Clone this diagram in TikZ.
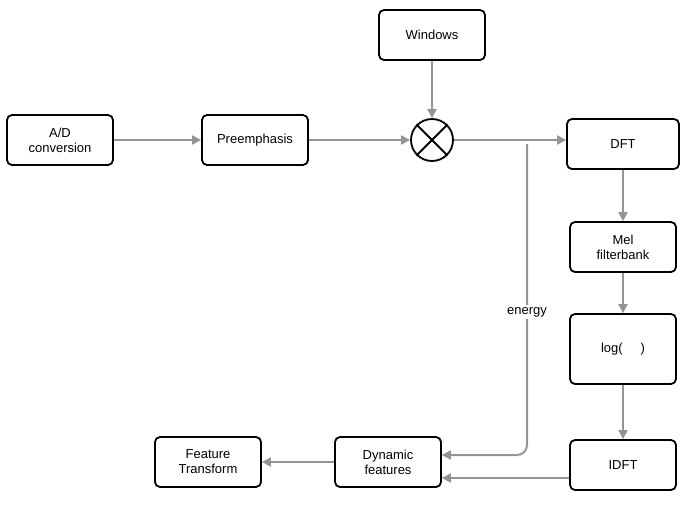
\documentclass[tikz,border=0pt]{standalone}
\usepackage{fontspec}
\setmainfont{Liberation Sans}
\usetikzlibrary{arrows.meta}
\begin{document}
\begin{tikzpicture}[x=1pt,y=-1pt,
  box/.style={draw=black,line width=1.8pt,rounded corners=5pt,fill=white,minimum width=106pt,minimum height=50pt,align=center,font=\fontsize{13}{15}\selectfont,inner sep=1pt},
  arr/.style={draw=black!42,line width=2pt,-{Triangle[length=9pt,width=9pt]}}]
\useasboundingbox (0,0) rectangle (685,504);
\node[box] (ad) at (60,140) {A/D\\conversion};
\node[box] (pre) at (255,140) {Preemphasis};
\node[box] (win) at (432,35) {Windows};
\node[draw=black,line width=1.8pt,circle,minimum size=42pt,inner sep=0pt] (mul) at (432,140) {};
\draw[line width=1.8pt] (mul.45) -- (mul.225) (mul.135) -- (mul.315);
\node[box,minimum width=112pt] (dft) at (623,144) {DFT};
\node[box] (mel) at (623,247) {Mel\\filterbank};
\node[box,minimum height=70pt] (log) at (623,349) {log(\hspace{18pt})};
\node[box] (idft) at (623,465) {IDFT};
\node[box] (dyn) at (388,462) {Dynamic\\features};
\node[box] (ft) at (208,462) {Feature\\Transform};
\draw[arr] (ad) -- (pre);
\draw[arr] (pre) -- (mul);
\draw[arr] (win) -- (mul);
\draw[arr] (mul.east) -- (mul.east -| dft.west);
\draw[arr] (mel.north |- dft.south) -- (mel.north);
\draw[arr] (mel) -- (log);
\draw[arr] (log) -- (idft);
\coordinate (br) at (527,144);
\draw[arr,rounded corners=10pt] (br) -- (527,455) -- (dyn.east |- 0,455);
\node[fill=white,font=\fontsize{13}{15}\selectfont,inner sep=2pt] (en) at (527,312) {energy};
\draw[arr] (idft.west |- 0,478) -- (dyn.east |- 0,478);
\draw[arr] (dyn) -- (ft);
\end{tikzpicture}
\end{document}
